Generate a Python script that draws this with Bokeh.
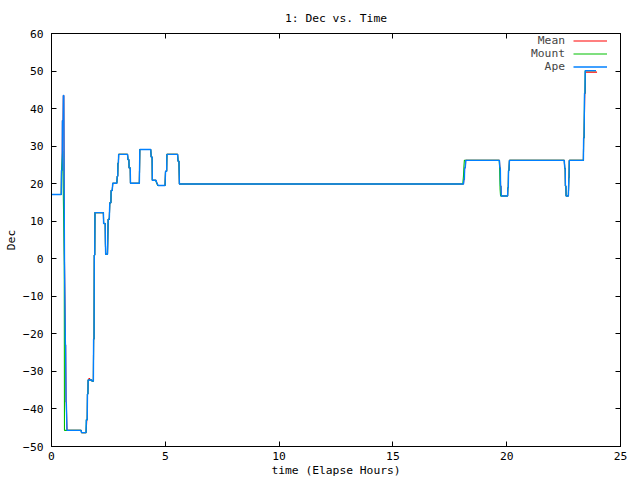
from bokeh.plotting import figure
from bokeh.models import Range1d, LinearAxis, FixedTicker, Legend, LegendItem
from bokeh.embed import file_html
from bokeh.resources import INLINE

TITLE = "1: Dec vs. Time"
X_LABEL = "time (Elapse Hours)"
Y_LABEL = "Dec"
X_TICKS = [0, 5, 10, 15, 20, 25]
Y_TICKS = [-50, -40, -30, -20, -10, 0, 10, 20, 30, 40, 50, 60]

# (elapsed hours, declination)
APE = [
    (0.00, 17.1), (0.43, 17.1), (0.44, 23.6), (0.47, 23.6), (0.48, 36.8), (0.51, 36.8),
    (0.52, 43.5), (0.54, 43.5), (0.57, -0.6), (0.61, -22.9), (0.62, -22.9), (0.64, -38.2),
    (0.65, -38.2), (0.68, -45.7), (1.30, -45.7), (1.32, -46.3), (1.52, -46.3), (1.53, -42.9),
    (1.57, -42.9), (1.58, -36.0), (1.60, -36.0), (1.61, -32.3), (1.77, -32.3), (1.78, -32.6),
    (1.84, -32.6), (1.85, -21.4), (1.87, -21.4), (1.88, 1.0), (1.90, 1.0), (1.91, 12.3),
    (2.28, 12.3), (2.29, 9.4), (2.36, 9.4), (2.37, 4.0), (2.38, 1.2), (2.46, 1.2),
    (2.47, 4.3), (2.49, 10.5), (2.54, 10.5), (2.56, 14.9), (2.61, 14.9), (2.62, 18.2),
    (2.67, 18.2), (2.69, 20.1), (2.87, 20.1), (2.89, 22.0), (2.91, 22.0), (2.92, 25.5),
    (2.94, 25.5), (2.95, 27.8), (3.34, 27.8), (3.36, 26.4), (3.40, 26.4), (3.41, 24.2),
    (3.46, 24.2), (3.47, 20.1), (3.86, 20.1), (3.88, 29.1), (4.36, 29.1), (4.38, 27.1),
    (4.42, 27.1), (4.43, 20.9), (4.59, 20.9), (4.62, 20.3), (4.68, 19.5), (4.99, 19.5),
    (5.01, 23.3), (5.06, 23.3), (5.07, 27.8), (5.54, 27.8), (5.56, 26.0), (5.60, 26.0),
    (5.62, 19.9), (18.10, 19.9), (18.12, 21.1), (18.14, 21.1), (18.15, 24.2), (18.18, 24.2),
    (18.20, 26.2), (19.68, 26.2), (19.70, 24.2), (19.72, 24.2), (19.73, 19.4), (19.75, 19.4),
    (19.76, 16.7), (20.04, 16.7), (20.05, 18.9), (20.07, 18.9), (20.08, 23.5), (20.10, 23.5),
    (20.12, 26.2), (22.53, 26.2), (22.55, 24.1), (22.57, 24.1), (22.58, 19.4), (22.60, 19.4),
    (22.61, 16.7), (22.71, 16.7), (22.73, 21.6), (22.74, 21.6), (22.75, 26.2), (23.37, 26.2),
    (23.38, 32.2), (23.40, 32.2), (23.42, 44.1), (23.44, 44.1), (23.45, 50.1), (23.92, 50.1),
]

MOUNT = [
    (0.00, 17.1), (0.43, 17.1), (0.44, 23.6), (0.49, 28.7), (0.51, 21.3), (0.56, -0.6),
    (0.57, -45.7), (1.30, -45.7), (1.32, -46.3), (1.52, -46.3), (1.53, -42.9),
    (1.57, -42.9), (1.58, -36.0), (1.60, -36.0), (1.61, -32.3), (1.77, -32.3), (1.78, -32.6),
    (1.84, -32.6), (1.85, -21.4), (1.87, -21.4), (1.88, 1.0), (1.90, 1.0), (1.91, 12.3),
    (2.28, 12.3), (2.29, 9.4), (2.36, 9.4), (2.37, 4.0), (2.38, 1.2), (2.46, 1.2),
    (2.47, 4.3), (2.49, 10.5), (2.54, 10.5), (2.56, 14.9), (2.61, 14.9), (2.62, 18.2),
    (2.67, 18.2), (2.69, 20.1), (2.87, 20.1), (2.89, 22.0), (2.91, 22.0), (2.92, 25.5),
    (2.94, 25.5), (2.95, 27.8), (3.34, 27.8), (3.36, 26.4), (3.40, 26.4), (3.41, 24.2),
    (3.46, 24.2), (3.47, 20.1), (3.86, 20.1), (3.88, 29.1), (4.36, 29.1), (4.38, 27.1),
    (4.42, 27.1), (4.43, 20.9), (4.57, 20.9), (4.67, 19.5), (4.99, 19.5),
    (5.01, 23.3), (5.06, 23.3), (5.07, 27.8), (5.54, 27.8), (5.56, 26.0), (5.60, 26.0),
    (5.62, 19.9), (18.07, 19.9), (18.10, 22.0), (18.12, 24.5), (18.14, 26.2),
    (19.67, 26.2), (19.69, 24.2), (19.70, 21.0), (19.71, 18.5), (19.73, 16.7),
    (20.04, 16.7), (20.05, 18.9), (20.07, 18.9), (20.08, 23.5), (20.10, 23.5),
    (20.12, 26.2), (22.53, 26.2), (22.55, 24.1), (22.57, 24.1), (22.58, 19.4), (22.60, 19.4),
    (22.61, 16.7), (22.71, 16.7), (22.73, 21.6), (22.74, 21.6), (22.75, 26.2), (23.37, 26.2),
    (23.38, 32.2), (23.40, 32.2), (23.42, 44.1), (23.44, 44.1), (23.45, 50.1), (23.92, 50.1),
]

MEAN = [
    (0.00, 17.1), (0.43, 17.1), (0.44, 23.6), (0.47, 23.6), (0.48, 36.8), (0.51, 36.8),
    (0.52, 43.5), (0.54, 43.5), (0.57, -0.6), (0.61, -22.9), (0.62, -22.9), (0.64, -38.2),
    (0.65, -38.2), (0.68, -45.7), (1.30, -45.7), (1.32, -46.3), (1.52, -46.3), (1.55, -42.9),
    (1.57, -42.9), (1.58, -36.0), (1.60, -36.0), (1.61, -32.3), (1.66, -31.8), (1.71, -32.3),
    (1.77, -32.3), (1.78, -32.6),
    (1.84, -32.6), (1.85, -21.4), (1.87, -21.4), (1.88, 1.0), (1.90, 1.0), (1.91, 12.3),
    (2.28, 12.3), (2.29, 9.4), (2.36, 9.4), (2.37, 4.0), (2.38, 1.2), (2.46, 1.2),
    (2.47, 4.3), (2.49, 10.5), (2.54, 10.5), (2.56, 14.9), (2.61, 14.9), (2.62, 18.2),
    (2.67, 18.2), (2.69, 20.1), (2.87, 20.1), (2.89, 22.0), (2.91, 22.0), (2.92, 25.5),
    (2.94, 25.5), (2.95, 27.8), (3.34, 27.8), (3.36, 26.4), (3.40, 26.4), (3.41, 24.2),
    (3.46, 24.2), (3.47, 20.1), (3.86, 20.1), (3.88, 29.1), (4.36, 29.1), (4.38, 27.1),
    (4.42, 27.1), (4.43, 20.9), (4.59, 20.9), (4.62, 20.3), (4.68, 19.5), (4.99, 19.5),
    (5.01, 23.3), (5.06, 23.3), (5.07, 27.8), (5.54, 27.8), (5.56, 26.0), (5.60, 26.0),
    (5.62, 19.9), (18.10, 19.9), (18.12, 21.1), (18.14, 21.1), (18.15, 24.2), (18.18, 24.2),
    (18.20, 26.2), (19.68, 26.2), (19.70, 24.2), (19.72, 24.2), (19.73, 19.4), (19.75, 19.4),
    (19.76, 16.7), (20.04, 16.7), (20.05, 18.9), (20.07, 18.9), (20.08, 23.5), (20.10, 23.5),
    (20.12, 26.2), (22.53, 26.2), (22.55, 24.1), (22.57, 24.1), (22.58, 19.4), (22.60, 19.4),
    (22.61, 16.7), (22.71, 16.7), (22.73, 21.6), (22.74, 21.6), (22.75, 26.2), (23.37, 26.2),
    (23.38, 32.2), (23.40, 32.2), (23.43, 44.0), (23.45, 44.0), (23.46, 49.7), (23.97, 49.7),
]

SERIES = [("Mean", MEAN, "#ff0000", 1.1), ("Mount", MOUNT, "#00c000", 1.1),
          ("Ape", APE, "#0080ff", 1.4)]

FONT = "DejaVu Sans Mono"
FS = "11.3px"

p = figure(width=640, height=480, output_backend="svg", toolbar_location=None,
           x_range=Range1d(0, 25), y_range=Range1d(-50, 60), title=TITLE,
           min_border_left=51, min_border_right=20, min_border_top=32, min_border_bottom=34)
p.title.align = "center"
p.title.text_font = FONT
p.title.text_font_size = FS
p.title.text_font_style = "normal"
p.title.text_color = "black"
p.title.offset = 0
p.title.standoff = 18

p.xgrid.visible = False
p.ygrid.visible = False
p.outline_line_color = "black"
p.outline_line_alpha = 1.0
p.background_fill_color = "white"
p.border_fill_color = "white"

p.xaxis.ticker = FixedTicker(ticks=X_TICKS)
p.yaxis.ticker = FixedTicker(ticks=Y_TICKS)
p.xaxis.axis_label = X_LABEL
p.yaxis.axis_label = Y_LABEL
for ax in p.xaxis + p.yaxis:
    ax.major_tick_in = 5
    ax.major_tick_out = 0
    ax.minor_tick_line_color = None
    ax.axis_line_color = "black"
    ax.major_tick_line_color = "black"
    ax.major_label_text_font = FONT
    ax.major_label_text_font_size = FS
    ax.major_label_text_color = "black"
    ax.axis_label_text_font = FONT
    ax.axis_label_text_font_size = FS
    ax.axis_label_text_font_style = "normal"
    ax.axis_label_text_color = "black"
p.xaxis.major_label_standoff = 5
p.xaxis.axis_label_standoff = 1
p.yaxis.major_label_standoff = 8
p.yaxis.axis_label_standoff = 2

# mirrored tick marks on the top and right edges (no labels)
for loc, ticks in (("right", Y_TICKS), ("above", X_TICKS)):
    ax = LinearAxis(ticker=FixedTicker(ticks=ticks), major_tick_in=5, major_tick_out=0,
                    minor_tick_line_color=None, major_label_text_font_size="1px",
                    major_label_text_color=None, major_label_text_alpha=0,
                    major_label_standoff=0, axis_line_color="black")
    p.add_layout(ax, loc)

NBSP = "\u00a0"
width = max(len(name) for name, *_ in SERIES)
label_items = []
glyph_items = []
for name, pts, color, lw in SERIES:
    xs = [t for t, _ in pts]
    ys = [d for _, d in pts]
    r = p.line(xs, ys, line_color=color, line_width=lw)
    # monospace font: pad on the left so names line up on the right, as gnuplot's key
    label_items.append(LegendItem(label=NBSP * (width - len(name)) + name, renderers=[r]))
    glyph_items.append(LegendItem(label=NBSP, renderers=[r]))

common = dict(border_line_color=None, background_fill_alpha=0, label_text_font=FONT,
              label_text_font_size=FS, glyph_height=13, label_height=13, spacing=0,
              padding=0, margin=0)
names_legend = Legend(items=label_items, location=(480, 373), glyph_width=0,
                      label_standoff=0, **common)
lines_legend = Legend(items=glyph_items, location=(522, 373), glyph_width=34,
                      label_standoff=0, **common)
p.add_layout(names_legend)
p.add_layout(lines_legend)

open("out.html", "w").write(file_html(p, INLINE))
